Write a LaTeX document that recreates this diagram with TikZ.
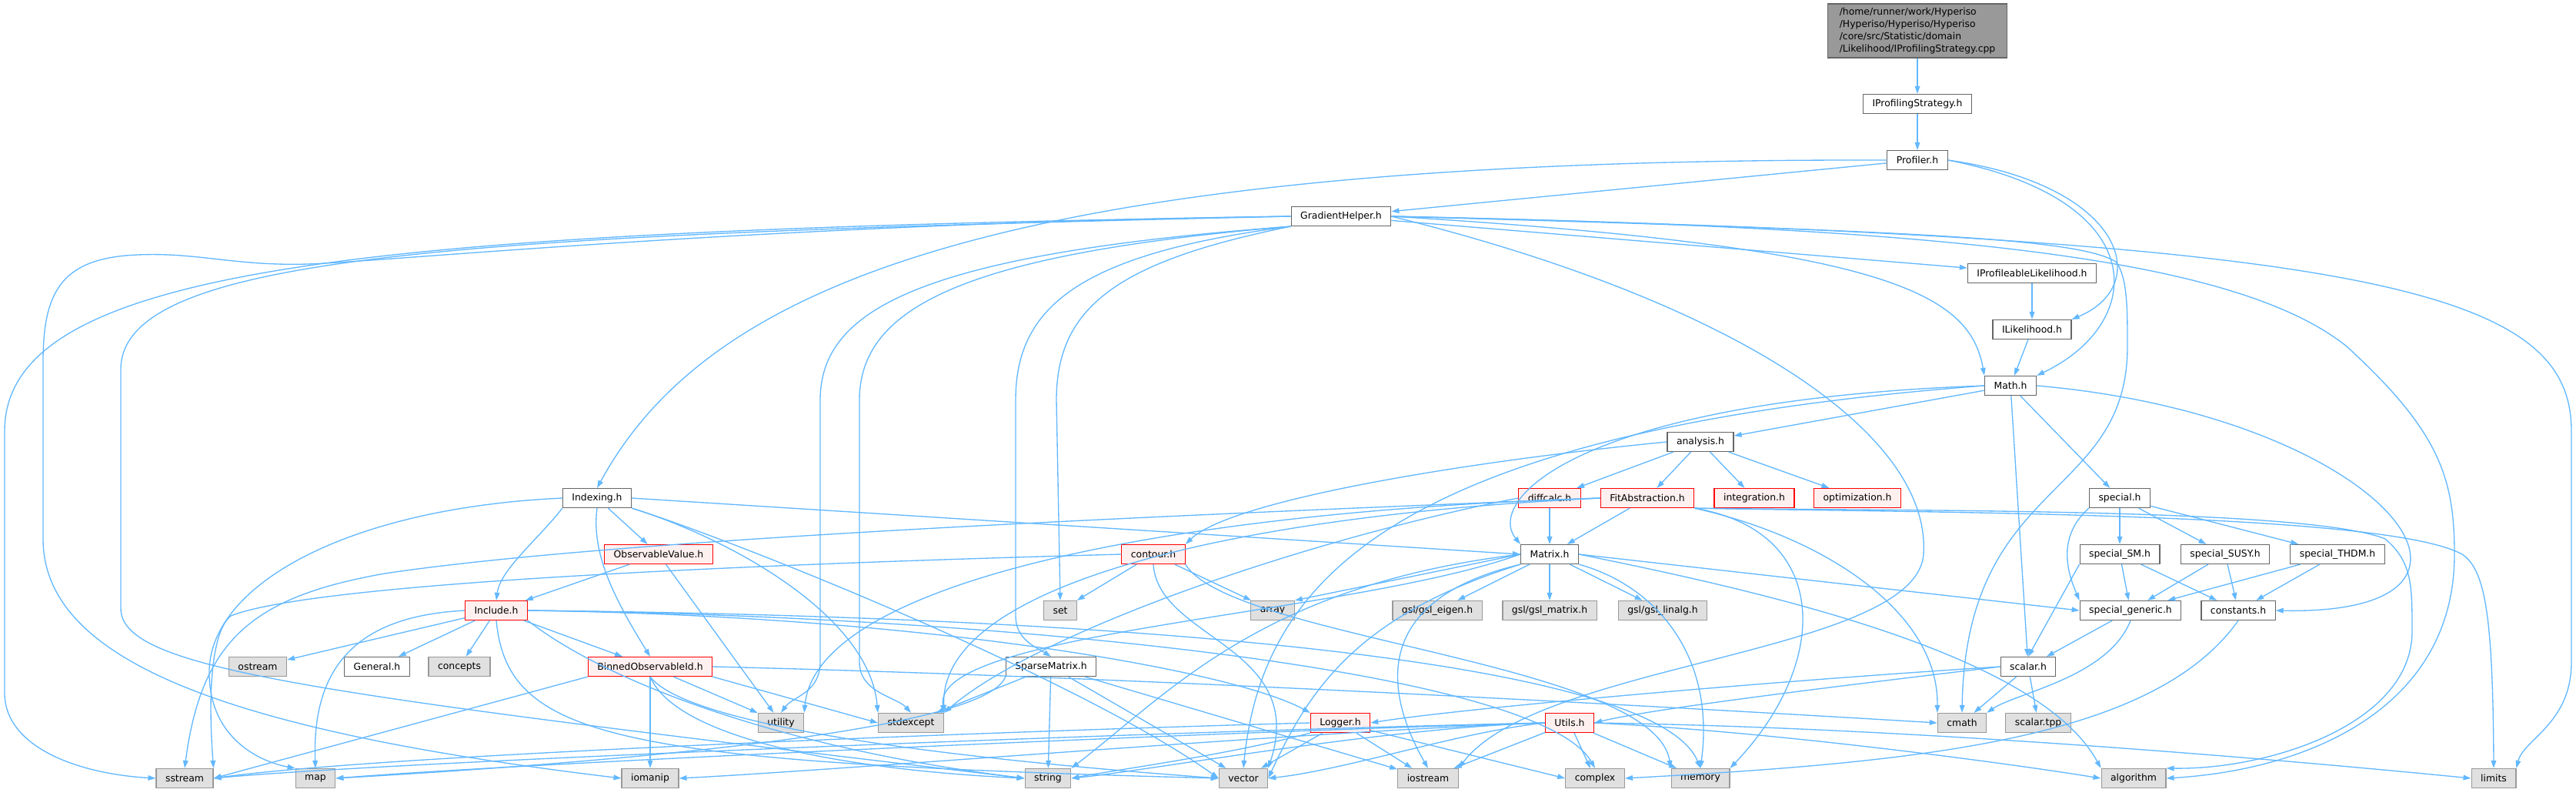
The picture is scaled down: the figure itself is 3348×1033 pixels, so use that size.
\documentclass[tikz,border=0pt]{standalone}
\usepackage{fontspec}
\setmainfont{DejaVu Sans}
\usetikzlibrary{arrows.meta}
\definecolor{edgeblue}{HTML}{63B8FF}
\definecolor{hdrline}{HTML}{666666}
\definecolor{sysline}{HTML}{999999}
\definecolor{sysfill}{HTML}{E0E0E0}
\definecolor{cutfill}{HTML}{FFF0F0}

\begin{document}
\begin{tikzpicture}[
    x=0.75pt, y=-0.75pt,
    hdr/.style={
        rectangle, draw=hdrline, fill=white, line width=0.9pt,
        minimum height=18.75pt, minimum width=32pt, inner xsep=9pt, inner ysep=2pt,
        font=\fontsize{9.3}{11}\selectfont
    },
    sys/.style={hdr, draw=sysline, fill=sysfill},
    cut/.style={hdr, draw=red, fill=cutfill},
    rootfile/.style={hdr, fill=sysline, align=left, minimum width=175pt, inner ysep=4pt,
        font=\fontsize{9.3}{11.8}\selectfont},
    dep/.style={draw=edgeblue, line width=1pt, -{Triangle[length=7.5pt, width=5pt]}}
]
    \useasboundingbox (0,0) rectangle (3348,1033);

    \node[rootfile] (root) at (2492,40) {/home/runner/work/Hyperiso\\/Hyperiso/Hyperiso/Hyperiso\\/core/src/Statistic/domain\\/Likelihood/IProfilingStrategy.cpp};
    \node[hdr] (pstrat) at (2492,135) {IProfilingStrategy.h};
    \node[hdr] (prof)   at (2492,208) {Profiler.h};
    \node[hdr] (grad)   at (1743,281) {GradientHelper.h};
    \node[hdr] (iplik)  at (2641,355) {IProfileableLikelihood.h};
    \node[hdr] (ilik)   at (2641,428) {ILikelihood.h};
    \node[hdr] (math)   at (2613,501) {Math.h};
    \node[hdr] (anal)   at (2210,574) {analysis.h};

    \node[hdr] (idx)    at (776,647)  {Indexing.h};
    \node[cut] (diff)   at (2014,647) {diffcalc.h};
    \node[cut] (fit)    at (2141,647) {FitAbstraction.h};
    \node[cut] (integ)  at (2280,647) {integration.h};
    \node[cut] (optim)  at (2414,647) {optimization.h};
    \node[hdr] (spec)   at (2755,647) {special.h};

    \node[cut] (obs)    at (856,720)  {ObservableValue.h};
    \node[cut] (cont)   at (1499,720) {contour.h};
    \node[hdr] (mat)    at (2014,720) {Matrix.h};
    \node[hdr] (spsm)   at (2755,720) {special\_SM.h};
    \node[hdr] (spsusy) at (2892,720) {special\_SUSY.h};
    \node[hdr] (spthdm) at (3038,720) {special\_THDM.h};

    \node[cut] (incl)   at (645,793)  {Include.h};
    \node[sys] (set)    at (1378,793) {set};
    \node[sys] (arr)    at (1654,793) {array};
    \node[sys] (geig)   at (1868,793) {gsl/gsl\_eigen.h};
    \node[sys] (gmat)   at (2014,793) {gsl/gsl\_matrix.h};
    \node[sys] (glin)   at (2161,793) {gsl/gsl\_linalg.h};
    \node[hdr] (spgen)  at (2769,793) {special\_generic.h};
    \node[hdr] (const)  at (2909,793) {constants.h};

    \node[sys] (ostr)   at (335,866)  {ostream};
    \node[hdr] (gen)    at (490,866)  {General.h};
    \node[sys] (conc)   at (597,866)  {concepts};
    \node[cut] (binned) at (845,866)  {BinnedObservableId.h};
    \node[hdr] (sparse) at (1366,866) {SparseMatrix.h};
    \node[hdr] (scal)   at (2636,866) {scalar.h};

    \node[sys] (util)   at (1015,939) {utility};
    \node[sys] (stdex)  at (1184,939) {stdexcept};
    \node[cut] (log)    at (1742,939) {Logger.h};
    \node[cut] (utils)  at (2040,939) {Utils.h};
    \node[sys] (cmath)  at (2550,939) {cmath};
    \node[sys] (stpp)   at (2649,939) {scalar.tpp};

    \node[sys] (sstr)   at (240,1011)  {sstream};
    \node[sys] (map)    at (410,1011)  {map};
    \node[sys] (ioman)  at (845,1011)  {iomanip};
    \node[sys] (str)    at (1362,1011) {string};
    \node[sys] (vec)    at (1616,1011) {vector};
    \node[sys] (iostr)  at (1856,1011) {iostream};
    \node[sys] (cplx)   at (2073,1011) {complex};
    \node[sys] (mem)    at (2210,1011) {memory};
    \node[sys] (algo)   at (2773,1011) {algorithm};
    \node[sys] (lim)    at (3241,1011) {limits};

    \draw[dep] (root) -- (pstrat);
    \draw[dep] (pstrat) -- (prof);
    \draw[dep] (prof) -- (grad);
    \draw[dep] (prof.west) .. controls (1300,205) and (920,370) .. (idx.north);
    \draw[dep] (prof.east) .. controls (2760,240) and (2800,370) .. (ilik.north east);
    \draw[dep] (prof.east) .. controls (2800,260) and (2790,420) .. (math.north east);
    \draw[dep] (iplik) -- (ilik);
    \draw[dep] (ilik) -- (math);

    \draw[dep] (grad) -- (iplik);
    \draw[dep] (grad.east) .. controls (2450,320) and (2560,380) .. (math.north west);
    \draw[dep] (grad.east) .. controls (2500,300) and (2700,310) .. (2750,340) .. controls (2765,360) and (2765,400) .. (2765,450) .. controls (2765,650) and (2555,620) .. (cmath.north);
    \draw[dep] (grad.east) .. controls (2500,295) and (2900,330) .. (3050,450) .. controls (3170,560) and (3190,620) .. (3190,720) .. controls (3190,920) and (3000,1000) .. (algo.east);
    \draw[dep] (grad.east) .. controls (3100,310) and (3342,380) .. (3342,560) -- (3342,860) .. controls (3342,940) and (3280,960) .. (lim.north east);
    \draw[dep] (grad.east) .. controls (2250,390) and (2510,560) .. (2500,720) .. controls (2490,850) and (2000,860) .. (iostr.north east);
    \draw[dep] (grad.west) .. controls (1000,290) and (500,340) .. (400,343) .. controls (300,346) and (250,325) .. (163,332) .. controls (80,340) and (56,380) .. (56,470) -- (56,700) .. controls (56,860) and (300,950) .. (ioman.west);
    \draw[dep] (grad.west) .. controls (500,300) and (6,340) .. (6,560) -- (6,900) .. controls (6,970) and (100,1005) .. (sstr.west);
    \draw[dep] (grad.west) .. controls (600,305) and (157,330) .. (157,480) -- (157,790) .. controls (157,870) and (400,900) .. (str.west);
    \draw[dep] (grad.south west) .. controls (1200,330) and (1066,400) .. (1066,520) -- (1066,860) .. controls (1066,900) and (1030,905) .. (util.north);
    \draw[dep] (grad.south west) .. controls (1250,330) and (1117,400) .. (1117,520) -- (1117,860) .. controls (1117,900) and (1165,905) .. (stdex.north);
    \draw[dep] (grad.south west) .. controls (1400,330) and (1320,400) .. (1320,520) -- (1320,800) .. controls (1320,830) and (1345,840) .. (sparse.north);
    \draw[dep] (grad.south west) .. controls (1450,340) and (1373,400) .. (1373,520) -- (set.north);

    \draw[dep] (math) -- (anal);
    \draw[dep] (math) -- (spec);
    \draw[dep] (math) -- (scal);
    \draw[dep] (math.east) .. controls (3100,540) and (3300,800) .. (const.east);
    \draw[dep] (math.west) .. controls (2050,520) and (1930,650) .. (mat.north west);
    \draw[dep] (math.west) .. controls (1800,560) and (1640,760) .. (vec.north);

    \draw[dep] (anal) -- (diff);
    \draw[dep] (anal) -- (fit);
    \draw[dep] (anal) -- (integ);
    \draw[dep] (anal) -- (optim);
    \draw[dep] (anal.west) .. controls (1900,600) and (1600,650) .. (cont.north east);

    \draw[dep] (diff) -- (mat);
    \draw[dep] (diff.west) .. controls (1700,700) and (1350,820) .. (stdex.north east);
    \draw[dep] (fit) -- (mat);
    \draw[dep] (fit.west) .. controls (1500,665) and (1060,760) .. (util.north east);
    \draw[dep] (fit.west) .. controls (1600,670) and (1220,760) .. (stdex.north east);
    \draw[dep] (fit.west) .. controls (1500,670) and (800,700) .. (500,745) .. controls (330,775) and (262,830) .. (sstr.north);
    \draw[dep] (fit.south east) .. controls (2380,700) and (2520,800) .. (cmath.north west);
    \draw[dep] (fit.south east) .. controls (2380,690) and (2380,860) .. (mem.north east);
    \draw[dep] (fit.south east) .. controls (2500,664) and (3000,660) .. (3100,700) .. controls (3135,730) and (3135,760) .. (3135,820) .. controls (3135,940) and (2950,1000) .. (algo.north east);
    \draw[dep] (fit.south east) .. controls (2500,666) and (3100,665) .. (3200,720) .. controls (3230,740) and (3240,800) .. (lim.north);

    \draw[dep] (spec) -- (spsm);
    \draw[dep] (spec) -- (spsusy);
    \draw[dep] (spec) -- (spthdm);
    \draw[dep] (spec.south west) .. controls (2670,700) and (2690,750) .. (spgen.north west);
    \draw[dep] (spsm) -- (spgen);
    \draw[dep] (spsm) -- (const);
    \draw[dep] (spsm.south west) -- (scal.north);
    \draw[dep] (spsusy) -- (spgen);
    \draw[dep] (spsusy) -- (const);
    \draw[dep] (spthdm) -- (spgen);
    \draw[dep] (spthdm) -- (const);
    \draw[dep] (spgen) -- (scal);
    \draw[dep] (spgen.south) .. controls (2740,880) and (2620,900) .. (cmath.north east);
    \draw[dep] (const.south) .. controls (2800,960) and (2500,990) .. (cplx.east);

    \draw[dep] (scal) -- (cmath);
    \draw[dep] (scal) -- (stpp);
    \draw[dep] (scal.west) .. controls (2300,885) and (1900,920) .. (log.east);
    \draw[dep] (scal.west) .. controls (2400,890) and (2150,920) .. (utils.east);

    \draw[dep] (idx) -- (obs);
    \draw[dep] (idx.south west) .. controls (700,700) and (650,740) .. (incl.north);
    \draw[dep] (idx.south) .. controls (768,720) and (800,780) .. (binned.north);
    \draw[dep] (idx.south east) .. controls (950,700) and (1130,800) .. (stdex.north west);
    \draw[dep] (idx.south east) .. controls (950,700) and (1400,880) .. (vec.west);
    \draw[dep] (idx.east) -- (mat.west);
    \draw[dep] (idx.west) .. controls (450,660) and (275,760) .. (272,870) .. controls (270,960) and (340,990) .. (map.north west);

    \draw[dep] (obs) -- (incl);
    \draw[dep] (obs) -- (util);

    \draw[dep] (incl) -- (ostr);
    \draw[dep] (incl) -- (gen);
    \draw[dep] (incl) -- (conc);
    \draw[dep] (incl) -- (binned);
    \draw[dep] (incl.west) .. controls (470,800) and (405,860) .. (map.north);
    \draw[dep] (incl.east) .. controls (1200,800) and (1600,870) .. (log.north west);
    \draw[dep] (incl.south) .. controls (660,960) and (800,990) .. (vec.west);
    \draw[dep] (incl.south east) .. controls (780,880) and (1000,970) .. (str.west);
    \draw[dep] (incl.east) .. controls (1400,800) and (2150,850) .. (mem.north);
    \draw[dep] (incl.east) .. controls (1300,800) and (2000,870) .. (cplx.north);

    \draw[dep] (binned.south west) -- (sstr.east);
    \draw[dep] (binned) -- (ioman);
    \draw[dep] (binned) -- (util);
    \draw[dep] (binned.south east) -- (stdex.west);
    \draw[dep] (binned.south) .. controls (880,960) and (1100,1000) .. (str.west);
    \draw[dep] (binned.south) .. controls (900,950) and (1300,990) .. (vec.west);
    \draw[dep] (binned.east) .. controls (1500,880) and (2200,920) .. (cmath.west);

    \draw[dep] (cont) -- (set);
    \draw[dep] (cont) -- (arr);
    \draw[dep] (cont.south) .. controls (1505,830) and (1700,840) .. (vec.north east);
    \draw[dep] (cont.south east) .. controls (1600,830) and (2150,860) .. (mem.north west);
    \draw[dep] (cont.west) .. controls (900,735) and (400,760) .. (300,800) .. controls (275,820) and (270,900) .. (sstr.north east);

    \draw[dep] (mat) -- (geig);
    \draw[dep] (mat) -- (gmat);
    \draw[dep] (mat) -- (glin);
    \draw[dep] (mat.west) -- (arr.north east);
    \draw[dep] (mat.west) .. controls (1750,800) and (1210,820) .. (stdex.north east);
    \draw[dep] (mat.west) .. controls (1640,760) and (1520,900) .. (str.north east);
    \draw[dep] (mat.south west) .. controls (1760,800) and (1700,900) .. (vec.east);
    \draw[dep] (mat.south west) .. controls (1780,780) and (1800,900) .. (iostr.north);
    \draw[dep] (mat.south east) .. controls (2150,760) and (2230,850) .. (mem.north);
    \draw[dep] (mat.east) .. controls (2300,770) and (2650,850) .. (algo.north west);
    \draw[dep] (mat.east) -- (spgen.west);

    \draw[dep] (sparse) -- (stdex);
    \draw[dep] (sparse) -- (str);
    \draw[dep] (sparse) -- (vec);
    \draw[dep] (sparse) -- (iostr);
    \draw[dep] (sparse.south west) .. controls (1280,950) and (800,990) .. (map.east);

    \draw[dep] (log) -- (vec);
    \draw[dep] (log) -- (iostr);
    \draw[dep] (log.south west) .. controls (1600,980) and (1450,1000) .. (str.east);
    \draw[dep] (log) -- (cplx.west);
    \draw[dep] (log.west) .. controls (1300,950) and (500,980) .. (sstr.east);

    \draw[dep] (utils) -- (cplx);
    \draw[dep] (utils) -- (mem);
    \draw[dep] (utils) -- (iostr);
    \draw[dep] (utils.west) .. controls (1900,950) and (1750,1000) .. (vec.east);
    \draw[dep] (utils.west) .. controls (1800,945) and (1500,1000) .. (str.east);
    \draw[dep] (utils.west) .. controls (1600,950) and (700,990) .. (map.east);
    \draw[dep] (utils.west) .. controls (1500,950) and (500,990) .. (sstr.east);
    \draw[dep] (utils.west) .. controls (1700,950) and (1100,1000) .. (ioman.east);
    \draw[dep] (utils.east) .. controls (2300,950) and (2600,990) .. (algo.west);
    \draw[dep] (utils.east) .. controls (2500,945) and (3000,990) .. (lim.west);
\end{tikzpicture}
\end{document}
